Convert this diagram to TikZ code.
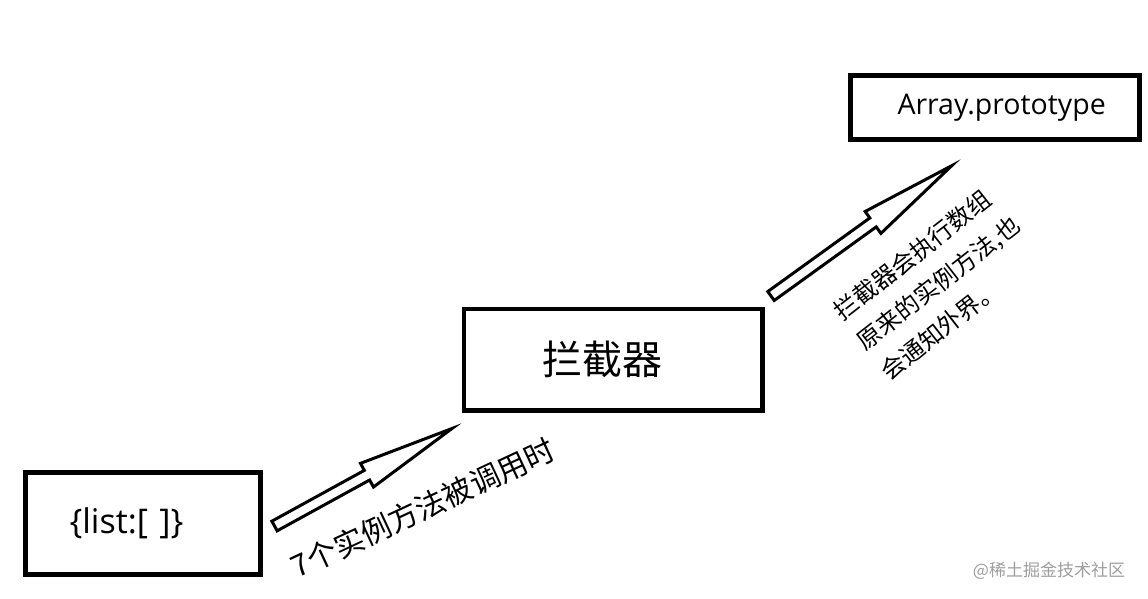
\documentclass[tikz,border=0pt]{standalone}
\usepackage{fontspec}
\setmainfont{Open Sans}
\newfontfamily\cjk{Noto Sans CJK SC}
\usetikzlibrary{calc}
\newcommand{\hollowarrow}[2]{%
  \coordinate (hb) at ($(#2)!97pt!(#1)$);
  \draw[arrowline] ($(#1)!5.5pt!90:(#2)$) -- ($(hb)!5.5pt!90:(#2)$) -- ($(hb)!13.5pt!90:(#2)$) -- (#2)
    -- ($(hb)!13.5pt!-90:(#2)$) -- ($(hb)!5.5pt!-90:(#2)$) -- ($(#1)!5.5pt!-90:(#2)$) -- cycle;}

\begin{document}
\begin{tikzpicture}[x=1pt, y=-1pt,
    box/.style={draw=black, line width=4.5pt, inner ysep=0pt, align=left},
    arrowline/.style={draw=black, line width=3pt, fill=white},
    note/.style={inner sep=0pt, align=left}
]
\path[fill=white, use as bounding box] (0,0) rectangle (1148,599);
\node[box, minimum height=102pt, text width=147pt, inner xsep=44pt, font=\fontsize{34}{40}\selectfont] (list) at (143,523.5) {\{list:[\ ]\}};
\node[box, minimum height=101.5pt, text width=140.5pt, inner xsep=79pt, font=\cjk\fontsize{40}{48}\selectfont] (intercept) at (613,359.75) {拦截器};
\node[box, minimum height=64pt, text width=195pt, inner xsep=47pt, font=\fontsize{28.5}{34}\selectfont] (proto) at (995,107.5) {Array.prototype};
\coordinate (tailA) at (274.5,526);
\coordinate (tipA) at (452,428.5);
\coordinate (tailB) at (771,296);
\coordinate (tipB) at (951.7,165.7);
\hollowarrow{tailA}{tipA}
\hollowarrow{tailB}{tipB}
\node[note, rotate=25, font=\cjk\fontsize{30}{36}\selectfont] (callnote) at (423,508) {7个实例方法被调用时};
\node[note, rotate=38, font=\cjk\fontsize{24}{38}\selectfont] (execnote) at (938.5,283) {拦截器会执行数组\\原来的实例方法,也\\会通知外界。};
\node[note, text=black!38, font=\cjk\fontsize{17}{20}\selectfont] (mark) at (1049,571) {@稀土掘金技术社区};
\end{tikzpicture}
\end{document}
